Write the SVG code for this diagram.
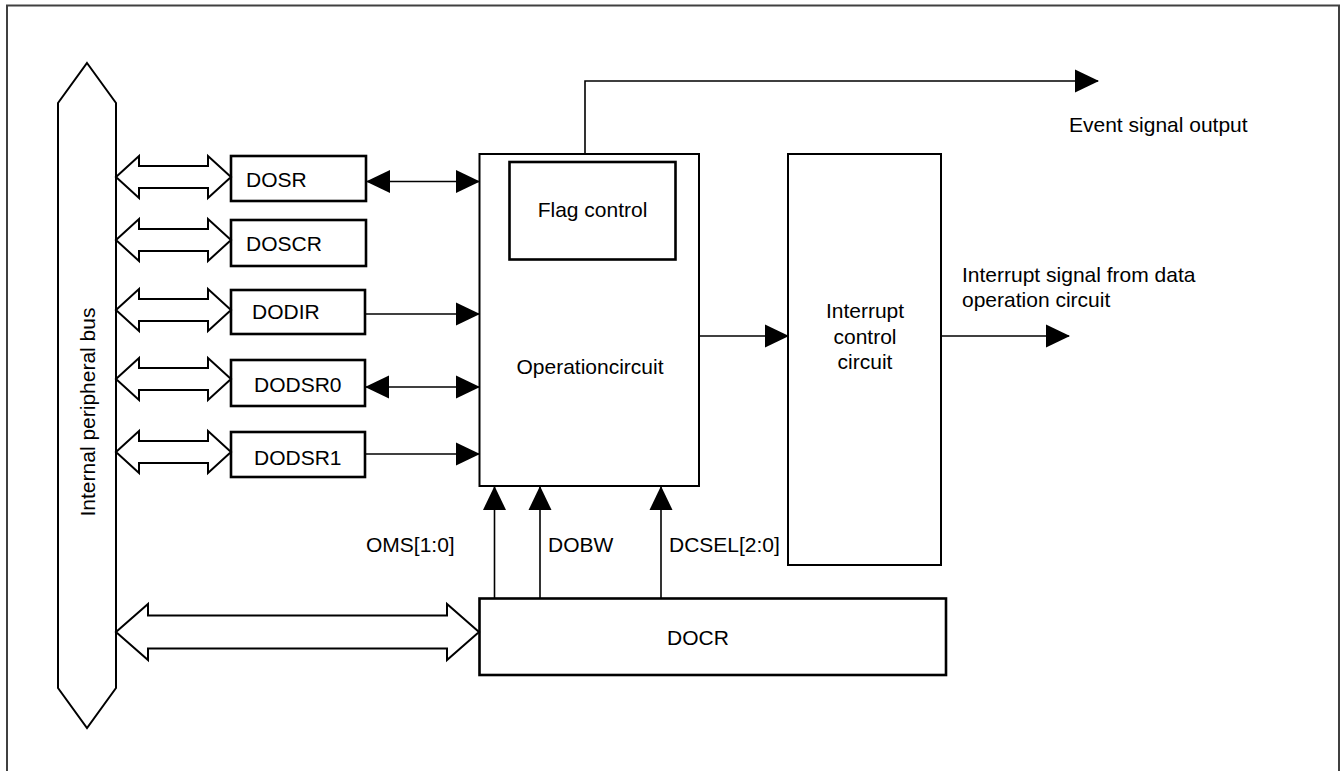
<svg xmlns="http://www.w3.org/2000/svg" width="1343" height="771" viewBox="0 0 1343 771">
<style>
text{font-family:"Liberation Sans",Arial,sans-serif;font-size:21px;fill:#000}
.reg{fill:#fff;stroke:#000;stroke-width:2.6}
.blk{fill:#fff;stroke:#000;stroke-width:2}
.ln{fill:none;stroke:#000;stroke-width:1.6}
.dbl{fill:#fff;stroke:#000;stroke-width:2;stroke-linejoin:miter}
</style>
<defs>
<marker id="ah" markerUnits="userSpaceOnUse" markerWidth="24" markerHeight="24" viewBox="0 0 24 24" refX="23" refY="12" orient="auto-start-reverse">
<path d="M0,0.5 L24,12 L0,23.5 Z" fill="#000"/>
</marker>
<path id="dblS" d="M0,0 L23,-21 L23,-11 L92,-11 L92,-21 L115,0 L92,21 L92,11 L23,11 L23,21 Z"/>
<path id="dblL" d="M0,0 L32,-28 L32,-16.5 L331,-16.5 L331,-28 L363,0 L331,28 L331,16.5 L32,16.5 L32,28 Z"/>
</defs>
<rect x="0" y="0" width="1343" height="771" fill="#fff"/>
<path d="M7,790 L7,5.5 L1339,5.5 L1339,790" fill="none" stroke="#404040" stroke-width="2"/>

<g id="bus">
<polygon points="87,63 116,103 116,688 87,728 58,688 58,103" class="blk"/>
<text transform="translate(95,412) rotate(-90)" text-anchor="middle">Internal peripheral bus</text>
</g>

<g id="DOSR"><rect x="231" y="156" width="135" height="45" class="reg"/><text x="246" y="187">DOSR</text></g>
<g id="DOSCR"><rect x="231" y="220" width="135" height="46" class="reg"/><text x="246" y="251">DOSCR</text></g>
<g id="DODIR"><rect x="231" y="290" width="134" height="44" class="reg"/><text x="252" y="319">DODIR</text></g>
<g id="DODSR0"><rect x="231" y="360" width="134" height="46" class="reg"/><text x="254" y="392">DODSR0</text></g>
<g id="DODSR1"><rect x="231" y="432" width="134" height="45" class="reg"/><text x="254" y="465">DODSR1</text></g>

<g id="op">
<rect x="479.5" y="154" width="219.5" height="332" class="blk"/>
<text x="590" y="374" text-anchor="middle">Operationcircuit</text>
</g>
<g id="flag">
<rect x="509.5" y="162" width="166" height="97.5" class="reg"/>
<text x="592.5" y="217" text-anchor="middle">Flag control</text>
</g>
<g id="intc">
<rect x="788" y="154" width="153" height="411" class="blk"/>
<text x="865" y="318" text-anchor="middle">Interrupt</text>
<text x="865" y="344" text-anchor="middle">control</text>
<text x="865" y="369" text-anchor="middle">circuit</text>
</g>
<g id="DOCR">
<rect x="479.5" y="598.5" width="466.5" height="76.5" class="reg"/>
<text x="667" y="645">DOCR</text>
</g>

<g id="connectors">
<use href="#dblS" x="116" y="177" class="dbl"/>
<use href="#dblS" x="116" y="240" class="dbl"/>
<use href="#dblS" x="116" y="310" class="dbl"/>
<use href="#dblS" x="116" y="379" class="dbl"/>
<use href="#dblS" x="116" y="452" class="dbl"/>
<use href="#dblL" x="116" y="632" class="dbl"/>

<line x1="367" y1="181.5" x2="479" y2="181.5" class="ln" marker-start="url(#ah)" marker-end="url(#ah)"/>
<line x1="365" y1="314" x2="479" y2="314" class="ln" marker-end="url(#ah)"/>
<line x1="366" y1="387" x2="479" y2="387" class="ln" marker-start="url(#ah)" marker-end="url(#ah)"/>
<line x1="365" y1="454" x2="479" y2="454" class="ln" marker-end="url(#ah)"/>

<line x1="494.5" y1="598" x2="494.5" y2="487" class="ln" marker-end="url(#ah)"/>
<line x1="540" y1="598" x2="540" y2="487" class="ln" marker-end="url(#ah)"/>
<line x1="661" y1="598" x2="661" y2="487" class="ln" marker-end="url(#ah)"/>

<line x1="699" y1="336" x2="788" y2="336" class="ln" marker-end="url(#ah)"/>
<line x1="941" y1="336" x2="1069" y2="336" class="ln" marker-end="url(#ah)"/>
<polyline points="585,154 585,81 1098,81" class="ln" marker-end="url(#ah)"/>
</g>

<g id="labels">
<text x="366" y="552">OMS[1:0]</text>
<text x="548" y="552">DOBW</text>
<text x="669" y="552">DCSEL[2:0]</text>
<text x="1069" y="132">Event signal output</text>
<text x="962" y="282">Interrupt signal from data</text>
<text x="962" y="307">operation circuit</text>
</g>
</svg>
